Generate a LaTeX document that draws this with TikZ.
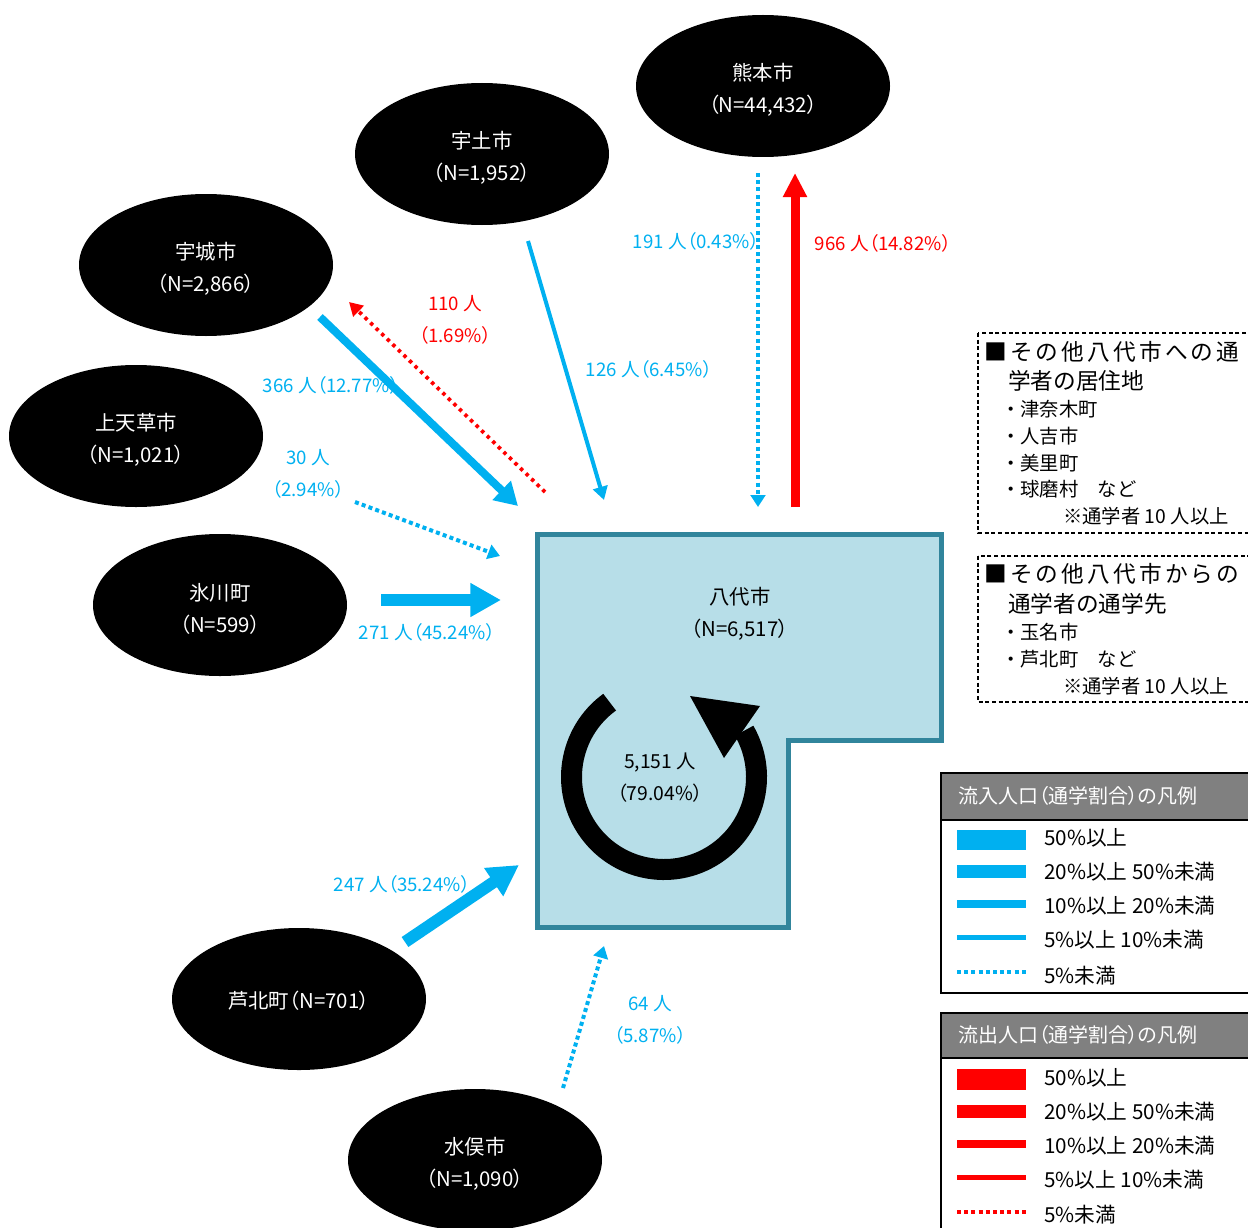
\documentclass[tikz,border=0pt]{standalone}
\usepackage{fontspec}
\usetikzlibrary{arrows.meta,shapes.geometric}
\newfontfamily\jp{Noto Sans CJK JP}[RawFeature={+palt}]
\newfontfamily\jpn{Noto Sans CJK JP}
\newfontfamily\jpw{Noto Sans CJK JP}[LetterSpace=14]
\definecolor{cyanflow}{HTML}{00B0F0}
\definecolor{redflow}{HTML}{FF0000}
\definecolor{yfill}{HTML}{B7DEE8}
\definecolor{yedge}{HTML}{31859C}
\definecolor{leghead}{HTML}{808080}
\tikzset{
  city/.style={ellipse, fill=black, minimum width=190.5pt, minimum height=106.5pt, inner sep=0pt},
  citytxt/.style={text=white, align=center, inner sep=0pt, font=\jp\fontsize{15.3}{24}\selectfont},
  inlbl/.style={text=cyanflow, align=center, inner sep=0pt, font=\jp\fontsize{14}{24}\selectfont},
  outlbl/.style={text=redflow, align=center, inner sep=0pt, font=\jp\fontsize{14}{24}\selectfont},
  blklbl/.style={text=black, align=center, inner sep=0pt, font=\jp\fontsize{14.5}{24}\selectfont},
  inthick/.style={draw=cyanflow, line width=9pt, -{Triangle[length=23pt,width=24pt]}},
  inmid/.style={draw=cyanflow, line width=6pt, -{Triangle[length=17pt,width=19pt]}},
  inthin/.style={draw=cyanflow, line width=3pt, -{Triangle[length=10pt,width=11pt]}},
  indot/.style={draw=cyanflow, line width=3pt, dash pattern=on 3pt off 2.4pt, -{Triangle[length=9pt,width=11pt]}},
  outmid/.style={draw=redflow, line width=6.75pt, -{Triangle[length=18pt,width=17pt]}},
  outdot/.style={draw=redflow, line width=2.8pt, dash pattern=on 2.6pt off 3.2pt, -{Triangle[length=10pt,width=11pt]}},
  notebox/.style={draw=black, line width=0.9pt, dash pattern=on 3pt off 2pt},
  notehd/.style={anchor=west, inner sep=0pt, font=\jpw\fontsize{17}{22}\selectfont},
  notehd2/.style={anchor=west, inner sep=0pt, font=\jpn\fontsize{17}{22}\selectfont},
  noteitem/.style={anchor=west, inner sep=0pt, font=\jpn\fontsize{14.5}{20}\selectfont},
  legframe/.style={draw=black, line width=1.5pt},
  legtitle/.style={anchor=west, inner sep=0pt, text=white, font=\jp\fontsize{15}{20}\selectfont},
  legtext/.style={anchor=west, inner sep=0pt, font=\jp\fontsize{15.5}{20}\selectfont},
}
\begin{document}
\begin{tikzpicture}[x=0.75pt,y=-0.75pt]
\useasboundingbox (0,0) rectangle (1248,1227);
\clip (0,0) rectangle (1248,1227);

% ---------- Yatsushiro area ----------
\draw[draw=yedge, fill=yfill, line width=3.75pt]
  (537,534) -- (941.5,534) -- (941.5,740) -- (788,740) -- (788,927.5) -- (537,927.5) -- cycle;
\node[blklbl, font=\jp\fontsize{15.3}{24}\selectfont] (yatsu) at (740,614) {八代市\\（N=6,517）};

% circular arrow
\draw[line width=15.75pt] ([shift={(-126:92.5)}]664,777) arc[start angle=-126, end angle=-390, radius=92.5];
\fill (690,696) -- (760,706) -- (724,758) -- cycle;
\node[blklbl] (self) at (660,778) {5,151 人\\（79.04\%）};

% ---------- cities ----------
\node[city] (kuma) at (763,86) {};
\node[city] (uto) at (482,154) {};
\node[city] (uki) at (206,265) {};
\node[city] (kami) at (136,436) {};
\node[city] (hika) at (220,605) {};
\node[city] (ashi) at (299,999) {};
\node[city] (mina) at (475,1160) {};
\node[citytxt] (kumaL) at ([yshift=-3pt]kuma.center) {熊本市\\（N=44,432）};
\node[citytxt] (utoL) at ([yshift=-3pt]uto.center) {宇土市\\（N=1,952）};
\node[citytxt] (ukiL) at ([yshift=-3pt]uki.center) {宇城市\\（N=2,866）};
\node[citytxt] (kamiL) at ([yshift=-3pt]kami.center) {上天草市\\（N=1,021）};
\node[citytxt] (hikaL) at ([yshift=-3pt]hika.center) {氷川町\\（N=599）};
\node[citytxt] (ashiL) at ([yshift=-1pt]ashi.center) {芦北町（N=701）};
\node[citytxt] (minaL) at ([yshift=-3pt]mina.center) {水俣市\\（N=1,090）};

% ---------- connector end points ----------
\coordinate (ukiS) at (320,317);   \coordinate (ukiT) at (518,506);
\coordinate (ukiRS) at (545,492);  \coordinate (ukiRT) at (349,302);
\coordinate (utoS) at (528,241);   \coordinate (utoT) at (604,500);
\coordinate (kamiS) at (355,502);  \coordinate (kamiT) at (500,556);
\coordinate (hikaS) at (381,600);  \coordinate (hikaT) at (501,600);
\coordinate (ashiS) at (405,942);  \coordinate (ashiT) at (519,865);
\coordinate (minaS) at (563,1088); \coordinate (minaT) at (604,946);
\coordinate (kumaS) at (758,173);  \coordinate (kumaT) at (758,507);
\coordinate (kumaRS) at (795,507); \coordinate (kumaRT) at (795,173);

% ---------- flows ----------
\draw[inmid] (ukiS) -- (ukiT);
\draw[outdot] (ukiRS) -- (ukiRT);
\draw[inthin] (utoS) -- (utoT);
\draw[indot] (kamiS) -- (kamiT);
\draw[inthick] (hikaS) -- (hikaT);
\draw[inthick] (ashiS) -- (ashiT);
\draw[indot] (minaS) -- (minaT);
\draw[indot] (kumaS) -- (kumaT);
\draw[outmid] (kumaRS) -- (kumaRT);

% ---------- flow labels ----------
\node[outlbl] (l110) at (455,320) {110 人\\（1.69\%）};
\node[inlbl] (l366) at (331,385) {366 人（12.77\%）};
\node[inlbl] (l30) at (308,474) {30 人\\（2.94\%）};
\node[inlbl] (l271) at (427,632) {271 人（45.24\%）};
\node[inlbl] (l126) at (649,369) {126 人（6.45\%）};
\node[inlbl] (l191) at (696,241) {191 人（0.43\%）};
\node[outlbl] (l966) at (883,243) {966 人（14.82\%）};
\node[inlbl] (l247) at (402,884) {247 人（35.24\%）};
\node[inlbl] (l64) at (650,1020) {64 人\\（5.87\%）};

% ---------- note boxes ----------
\draw[notebox] (978,333) rectangle (1262,533);
\node[notehd] (n1a) at (984,352) {■その他八代市への通};
\node[notehd2] (n1b) at (1008,381) {学者の居住地};
\node[noteitem] (n1c) at (1001,409) {・津奈木町};
\node[noteitem] (n1d) at (1001,436) {・人吉市};
\node[noteitem] (n1e) at (1001,463) {・美里町};
\node[noteitem] (n1f) at (1001,489) {・球磨村　など};
\node[noteitem] (n1g) at (1063,516) {※通学者 10 人以上};

\draw[notebox] (978,556) rectangle (1262,702);
\node[notehd] (n2a) at (984,574) {■その他八代市からの};
\node[notehd2] (n2b) at (1008,604) {通学者の通学先};
\node[noteitem] (n2c) at (1001,632) {・玉名市};
\node[noteitem] (n2d) at (1001,659) {・芦北町　など};
\node[noteitem] (n2e) at (1063,686) {※通学者 10 人以上};

% ---------- legend: inflow ----------
\fill[white] (941,773) rectangle (1262,993);
\fill[leghead] (941,773) rectangle (1262,820);
\draw[legframe] (941,773) rectangle (1262,993);
\draw[legframe] (941,820) -- (1262,820);
\node[legtitle] (lg1) at (958,796) {流入人口（通学割合）の凡例};
\fill[cyanflow] (957,829.5) rectangle (1026,849.5);
\fill[cyanflow] (957,865) rectangle (1026,878);
\fill[cyanflow] (957,900) rectangle (1026,907.5);
\fill[cyanflow] (957,935) rectangle (1026,939.5);
\draw[cyanflow, line width=3pt, dash pattern=on 3pt off 2.4pt] (957,972) -- (1026,972);
\node[legtext] (lg1a) at (1044,838) {50\%以上};
\node[legtext] (lg1b) at (1044,872) {20\%以上 50\%未満};
\node[legtext] (lg1c) at (1044,906) {10\%以上 20\%未満};
\node[legtext] (lg1d) at (1044,940) {5\%以上 10\%未満};
\node[legtext] (lg1e) at (1044,976) {5\%未満};

% ---------- legend: outflow ----------
\fill[white] (941,1013) rectangle (1262,1240);
\fill[leghead] (941,1013) rectangle (1262,1058);
\draw[legframe] (941,1013) rectangle (1262,1240);
\draw[legframe] (941,1058) -- (1262,1058);
\node[legtitle] (lg2) at (958,1035) {流出人口（通学割合）の凡例};
\fill[redflow] (957,1068.5) rectangle (1026,1089.5);
\fill[redflow] (957,1105) rectangle (1026,1118);
\fill[redflow] (957,1140) rectangle (1026,1147.5);
\fill[redflow] (957,1175) rectangle (1026,1179.5);
\draw[redflow, line width=3pt, dash pattern=on 3pt off 2.4pt] (957,1212) -- (1026,1212);
\node[legtext] (lg2a) at (1044,1078) {50\%以上};
\node[legtext] (lg2b) at (1044,1112) {20\%以上 50\%未満};
\node[legtext] (lg2c) at (1044,1146) {10\%以上 20\%未満};
\node[legtext] (lg2d) at (1044,1180) {5\%以上 10\%未満};
\node[legtext] (lg2e) at (1044,1215) {5\%未満};
\end{tikzpicture}
\end{document}
